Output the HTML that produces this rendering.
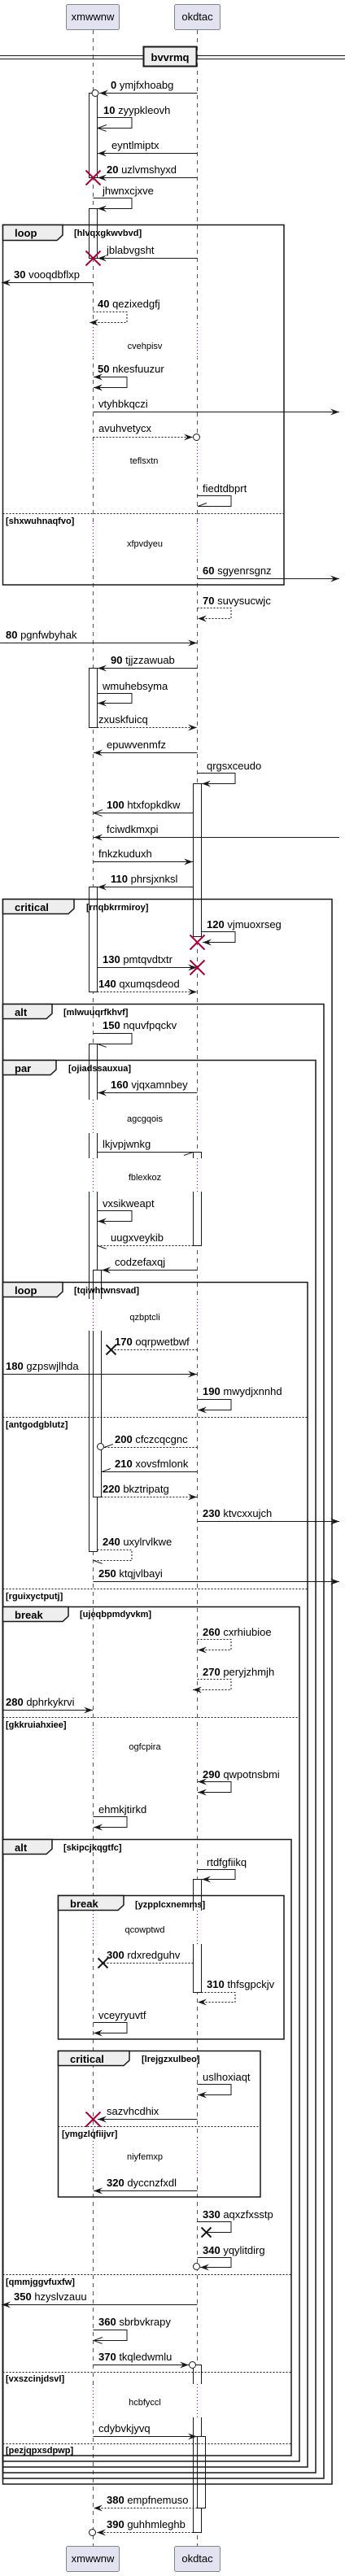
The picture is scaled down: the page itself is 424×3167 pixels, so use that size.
<!DOCTYPE html>
<html><head><meta charset="utf-8"><style>
html,body{margin:0;padding:0;background:#fff;}
svg{display:block;}
text{font-family:"Liberation Sans",Arial,sans-serif;fill:#000;}
.t{font-size:13px;}
.g{font-size:11px;font-weight:bold;}
.dv{font-size:11px;}
.tab{font-size:13px;font-weight:bold;}
.l{stroke:#181818;stroke-width:1;fill:none;}
.d{stroke:#181818;stroke-width:1;fill:none;stroke-dasharray:2,2;}
.fr{stroke:#181818;stroke-width:1.5;fill:none;}
.tb{stroke:#181818;stroke-width:1.5;fill:#eeeeee;}
.el{stroke:#181818;stroke-width:1;stroke-dasharray:2,2;}
.bar{fill:#fff;stroke:#181818;stroke-width:1;}
.rx{stroke:#a80036;stroke-width:2;}
.bx{stroke:#181818;stroke-width:2;}
.ll{stroke:#555;stroke-width:1;stroke-dasharray:5,5;}
.rd{stroke:#a80036;stroke-width:1;stroke-dasharray:1,3;}
</style></head><body>
<svg width="424" height="3167" viewBox="0 0 424 3167" xmlns="http://www.w3.org/2000/svg">
<defs>
<marker id="f" markerUnits="userSpaceOnUse" markerWidth="12" markerHeight="10" refX="11" refY="4" orient="auto"><path d="M0,0 L11,4 L0,8 L4,4 Z" fill="#181818"/></marker>
<marker id="fs" markerUnits="userSpaceOnUse" markerWidth="12" markerHeight="10" refX="11" refY="4" orient="auto-start-reverse"><path d="M0,0 L11,4 L0,8 L4,4 Z" fill="#181818"/></marker>
<marker id="o" markerUnits="userSpaceOnUse" markerWidth="12" markerHeight="10" refX="11" refY="4" orient="auto"><path d="M0,0 L11,4 L0,8" fill="none" stroke="#181818"/></marker>
<marker id="h" markerUnits="userSpaceOnUse" markerWidth="12" markerHeight="10" refX="11" refY="4" orient="auto"><path d="M0,8 L11,4" fill="none" stroke="#181818"/></marker>
<marker id="hu" markerUnits="userSpaceOnUse" markerWidth="12" markerHeight="10" refX="11" refY="4" orient="auto"><path d="M0,0 L11,4" fill="none" stroke="#181818"/></marker>
</defs>

<!-- participants -->
<rect x="81.5" y="5.5" width="65" height="31" rx="2" fill="#e2e2f0" stroke="#181818" stroke-width="0.5"/>
<text x="114" y="25" class="t" text-anchor="middle">xmwwnw</text>
<rect x="214.5" y="5.5" width="56" height="31" rx="2" fill="#e2e2f0" stroke="#181818" stroke-width="0.5"/>
<text x="242.5" y="25" class="t" text-anchor="middle">okdtac</text>
<rect x="81.5" y="3130.5" width="65" height="31" rx="2" fill="#e2e2f0" stroke="#181818" stroke-width="0.5"/>
<text x="114" y="3150" class="t" text-anchor="middle">xmwwnw</text>
<rect x="214.5" y="3130.5" width="56" height="31" rx="2" fill="#e2e2f0" stroke="#181818" stroke-width="0.5"/>
<text x="242.5" y="3150" class="t" text-anchor="middle">okdtac</text>

<line x1="114.5" y1="37" x2="114.5" y2="3130" class="ll"/>
<line x1="242.5" y1="37" x2="242.5" y2="3130" class="ll"/>

<!-- divider -->
<line x1="0" y1="68.5" x2="424" y2="68.5" stroke="#181818"/>
<line x1="0" y1="72.5" x2="424" y2="72.5" stroke="#181818"/>
<rect x="176.5" y="57.5" width="65" height="24" fill="#eeeeee" stroke="#181818" stroke-width="2"/>
<text x="209" y="75" class="tab" text-anchor="middle">bvvrmq</text>

<!-- activation bars -->
<rect x="109.5" y="114.5" width="10" height="104" class="bar"/>
<rect x="109.5" y="256.5" width="10" height="61" class="bar"/>
<rect x="109.5" y="821.5" width="10" height="73" class="bar"/>
<rect x="237.5" y="963.5" width="10" height="188" class="bar"/>
<rect x="109.5" y="1090.5" width="10" height="129" class="bar"/>
<rect x="109.5" y="1283.5" width="10" height="624" class="bar"/>
<rect x="237.5" y="1416.5" width="10" height="115" class="bar"/>
<rect x="114.5" y="1561.5" width="10" height="279" class="bar"/>
<rect x="237.5" y="2310.5" width="10" height="139" class="bar"/>
<rect x="237.5" y="2907.5" width="10" height="206" class="bar"/>
<rect x="242.5" y="2995.5" width="10" height="88" class="bar"/>

<!-- delays -->
<g fill="#fff">
<rect x="105" y="398" width="22" height="42"/><rect x="232" y="398" width="22" height="42"/>
<rect x="105" y="541" width="22" height="42"/><rect x="232" y="541" width="22" height="42"/>
<rect x="105" y="643" width="22" height="42"/><rect x="232" y="643" width="22" height="42"/>
<rect x="105" y="1352" width="22" height="41"/><rect x="232" y="1352" width="22" height="41"/>
<rect x="105" y="1424" width="22" height="41"/><rect x="232" y="1424" width="22" height="41"/>
<rect x="105" y="1597" width="22" height="39"/><rect x="232" y="1597" width="22" height="39"/>
<rect x="105" y="2121" width="22" height="42"/><rect x="232" y="2121" width="22" height="42"/>
<rect x="105" y="2349" width="22" height="41"/><rect x="232" y="2349" width="22" height="41"/>
<rect x="105" y="2628" width="22" height="42"/><rect x="232" y="2628" width="22" height="42"/>
<rect x="105" y="2931" width="22" height="41"/><rect x="232" y="2931" width="22" height="41"/>
</g>
<g class="rd">
<line x1="114.5" y1="398" x2="114.5" y2="440"/><line x1="242.5" y1="398" x2="242.5" y2="440"/>
<line x1="114.5" y1="541" x2="114.5" y2="583"/><line x1="242.5" y1="541" x2="242.5" y2="583"/>
<line x1="114.5" y1="643" x2="114.5" y2="685"/><line x1="242.5" y1="643" x2="242.5" y2="685"/>
<line x1="114.5" y1="1352" x2="114.5" y2="1393"/><line x1="242.5" y1="1352" x2="242.5" y2="1393"/>
<line x1="114.5" y1="1424" x2="114.5" y2="1465"/><line x1="242.5" y1="1424" x2="242.5" y2="1465"/>
<line x1="114.5" y1="1597" x2="114.5" y2="1636"/><line x1="242.5" y1="1597" x2="242.5" y2="1636"/>
<line x1="114.5" y1="2121" x2="114.5" y2="2163"/><line x1="242.5" y1="2121" x2="242.5" y2="2163"/>
<line x1="114.5" y1="2349" x2="114.5" y2="2390"/><line x1="242.5" y1="2349" x2="242.5" y2="2390"/>
<line x1="114.5" y1="2628" x2="114.5" y2="2670"/><line x1="242.5" y1="2628" x2="242.5" y2="2670"/>
<line x1="114.5" y1="2931" x2="114.5" y2="2972"/><line x1="242.5" y1="2931" x2="242.5" y2="2972"/>
</g>
<text x="178" y="429" class="dv" text-anchor="middle">cvehpisv</text>
<text x="177" y="570" class="dv" text-anchor="middle">teflsxtn</text>
<text x="178" y="672" class="dv" text-anchor="middle">xfpvdyeu</text>
<text x="178" y="1379" class="dv" text-anchor="middle">agcgqois</text>
<text x="178" y="1451" class="dv" text-anchor="middle">fblexkoz</text>
<text x="178" y="1623" class="dv" text-anchor="middle">qzbptcli</text>
<text x="178" y="2151" class="dv" text-anchor="middle">ogfcpira</text>
<text x="178" y="2376" class="dv" text-anchor="middle">qcowptwd</text>
<text x="178" y="2655" class="dv" text-anchor="middle">niyfemxp</text>
<text x="178" y="2957" class="dv" text-anchor="middle">hcbfyccl</text>

<!-- frames -->
<rect x="3.5" y="276.5" width="345.5" height="442.5" class="fr"/>
<path d="M3.5,276.5 H77 V289 L70,295.5 H3.5 Z" class="tb"/>
<text x="18" y="291" class="tab">loop</text>
<text x="91" y="290" class="g">[hlvqxgkwvbvd]</text>
<line x1="3.5" y1="631.5" x2="349" y2="631.5" class="el"/>
<text x="7" y="644" class="g">[shxwuhnaqfvo]</text>

<rect x="3.5" y="1105.5" width="404.5" height="1948.5" class="fr"/>
<path d="M3.5,1105.5 H91 V1117 L84,1123.5 H3.5 Z" class="tb"/>
<text x="18" y="1120" class="tab">critical</text>
<text x="106" y="1119" class="g">[rnqbkrrmiroy]</text>

<rect x="3.5" y="1234.5" width="394.5" height="1812.5" class="fr"/>
<path d="M3.5,1234.5 H64 V1246 L57,1252.5 H3.5 Z" class="tb"/>
<text x="18" y="1249" class="tab">alt</text>
<text x="78" y="1248" class="g">[mlwuuqrfkhvf]</text>

<rect x="3.5" y="1303.5" width="384.5" height="1736.5" class="fr"/>
<path d="M3.5,1303.5 H69 V1315 L62,1321.5 H3.5 Z" class="tb"/>
<text x="18" y="1318" class="tab">par</text>
<text x="84" y="1317" class="g">[ojiadssauxua]</text>

<rect x="3.5" y="1576.5" width="374.5" height="1456.5" class="fr"/>
<path d="M3.5,1576.5 H77 V1588 L70,1594.5 H3.5 Z" class="tb"/>
<text x="18" y="1591" class="tab">loop</text>
<text x="91" y="1590" class="g">[tqiwhtwnsvad]</text>
<line x1="3.5" y1="1742.5" x2="378" y2="1742.5" class="el"/>
<text x="7" y="1755" class="g">[antgodgblutz]</text>
<line x1="3.5" y1="1953.5" x2="378" y2="1953.5" class="el"/>
<text x="7" y="1966" class="g">[rguixyctputj]</text>

<rect x="3.5" y="1975.5" width="364.5" height="1050.5" class="fr"/>
<path d="M3.5,1975.5 H84 V1987 L77,1993.5 H3.5 Z" class="tb"/>
<text x="18" y="1990" class="tab">break</text>
<text x="98" y="1988" class="g">[ujeqbpmdyvkm]</text>
<line x1="3.5" y1="2111.5" x2="368" y2="2111.5" class="el"/>
<text x="7" y="2124" class="g">[gkkruiahxiee]</text>

<rect x="3.5" y="2261.5" width="354.5" height="757.5" class="fr"/>
<path d="M3.5,2261.5 H64 V2273 L57,2279.5 H3.5 Z" class="tb"/>
<text x="18" y="2276" class="tab">alt</text>
<text x="78" y="2275" class="g">[skipcjkqgtfc]</text>
<line x1="3.5" y1="2796.5" x2="358" y2="2796.5" class="el"/>
<text x="7" y="2809" class="g">[qmmjggvfuxfw]</text>
<line x1="3.5" y1="2916.5" x2="358" y2="2916.5" class="el"/>
<text x="7" y="2928" class="g">[vxszcinjdsvl]</text>
<line x1="3.5" y1="3004.5" x2="358" y2="3004.5" class="el"/>
<text x="7" y="3016" class="g">[pezjqpxsdpwp]</text>

<rect x="71.5" y="2330.5" width="277.5" height="176.5" class="fr"/>
<path d="M71.5,2330.5 H152 V2342 L145,2348.5 H71.5 Z" class="tb"/>
<text x="86" y="2345" class="tab">break</text>
<text x="166" y="2345" class="g">[yzpplcxnemms]</text>

<rect x="71.5" y="2521.5" width="248.5" height="179.5" class="fr"/>
<path d="M71.5,2521.5 H159 V2533 L152,2539.5 H71.5 Z" class="tb"/>
<text x="86" y="2536" class="tab">critical</text>
<text x="174" y="2535" class="g">[lrejgzxulbeo]</text>
<line x1="71.5" y1="2614.5" x2="320" y2="2614.5" class="el"/>
<text x="76" y="2627" class="g">[ymgzlqfiijvr]</text>

<!-- messages -->
<line x1="242.5" y1="114.5" x2="122" y2="114.5" class="l" marker-end="url(#f)"/>
<circle cx="117" cy="114.5" r="4" fill="#fff" stroke="#181818"/>
<text x="136" y="109" class="t"><tspan font-weight="bold">0</tspan> ymjfxhoabg</text>

<polyline points="119.5,144.5 162,144.5 162,157.5 120,157.5" class="l" marker-end="url(#o)"/>
<text x="127" y="140" class="t"><tspan font-weight="bold">10</tspan> zyypkleovh</text>

<line x1="242.5" y1="188.5" x2="120" y2="188.5" class="l" marker-end="url(#f)"/>
<text x="137" y="183" class="t">eyntlmiptx</text>

<line x1="242.5" y1="218.5" x2="120" y2="218.5" class="l" marker-end="url(#f)"/>
<text x="131" y="213" class="t"><tspan font-weight="bold">20</tspan> uzlvmshyxd</text>
<path d="M105.5,209.5 L123.5,227.5 M123.5,209.5 L105.5,227.5" class="rx"/>

<polyline points="114.5,243.5 162,243.5 162,256.5 120,256.5" class="l" marker-end="url(#f)"/>
<text x="126" y="239" class="t">jhwnxcjxve</text>

<line x1="242.5" y1="317.5" x2="120" y2="317.5" class="l" marker-end="url(#f)"/>
<text x="131" y="312" class="t">jblabvgsht</text>
<path d="M105.5,308.5 L123.5,326.5 M123.5,308.5 L105.5,326.5" class="rx"/>

<line x1="114.5" y1="347.5" x2="2" y2="347.5" class="l" marker-end="url(#f)"/>
<text x="17" y="342" class="t"><tspan font-weight="bold">30</tspan> vooqdbflxp</text>

<polyline points="114.5,383.5 156,383.5 156,396.5 110,396.5" class="d" marker-end="url(#f)"/>
<text x="120" y="378" class="t"><tspan font-weight="bold">40</tspan> qezixedgfj</text>

<polyline points="115,463.5 156,463.5 156,476.5 115,476.5" class="l" marker-start="url(#fs)" marker-end="url(#f)"/>
<text x="120" y="458" class="t"><tspan font-weight="bold">50</tspan> nkesfuuzur</text>

<line x1="114.5" y1="506.5" x2="417" y2="506.5" class="l" marker-end="url(#f)"/>
<text x="121" y="501" class="t">vtyhbkqczi</text>

<line x1="114.5" y1="537.5" x2="237" y2="537.5" class="d" marker-end="url(#f)"/>
<circle cx="241.5" cy="537.5" r="4" fill="#fff" stroke="#181818"/>
<text x="121" y="531" class="t">avuhvetycx</text>

<polyline points="242.5,609.5 284,609.5 284,622.5 243,622.5" class="l" marker-end="url(#h)"/>
<text x="249" y="605" class="t">fiedtdbprt</text>

<line x1="242.5" y1="711.5" x2="417" y2="711.5" class="l" marker-end="url(#f)"/>
<text x="249" y="706" class="t"><tspan font-weight="bold">60</tspan> sgyenrsgnz</text>

<polyline points="242.5,747.5 284,747.5 284,760.5 243,760.5" class="d" marker-end="url(#f)"/>
<text x="249" y="743" class="t"><tspan font-weight="bold">70</tspan> suvysucwjc</text>

<line x1="0" y1="790.5" x2="242" y2="790.5" class="l" marker-end="url(#f)"/>
<text x="7" y="785" class="t"><tspan font-weight="bold">80</tspan> pgnfwbyhak</text>

<line x1="242.5" y1="821.5" x2="120" y2="821.5" class="l" marker-end="url(#f)"/>
<text x="136" y="816" class="t"><tspan font-weight="bold">90</tspan> tjjzzawuab</text>

<polyline points="119.5,852.5 162,852.5 162,864.5 120,864.5" class="l" marker-end="url(#f)"/>
<text x="126" y="848" class="t">wmuhebsyma</text>

<line x1="119.5" y1="894.5" x2="242" y2="894.5" class="d" marker-end="url(#f)"/>
<text x="121" y="889" class="t">zxuskfuicq</text>

<line x1="242.5" y1="925.5" x2="115" y2="925.5" class="l" marker-end="url(#f)"/>
<text x="131" y="920" class="t">epuwvenmfz</text>

<polyline points="242.5,950.5 289,950.5 289,963.5 248,963.5" class="l" marker-end="url(#f)"/>
<text x="254" y="946" class="t">qrgsxceudo</text>

<line x1="237.5" y1="999.5" x2="115" y2="999.5" class="l" marker-end="url(#o)"/>
<text x="131" y="994" class="t"><tspan font-weight="bold">100</tspan> htxfopkdkw</text>

<line x1="417" y1="1029.5" x2="115" y2="1029.5" class="l" marker-end="url(#f)"/>
<text x="131" y="1024" class="t">fciwdkmxpi</text>

<line x1="114.5" y1="1059.5" x2="237" y2="1059.5" class="l" marker-end="url(#f)"/>
<text x="121" y="1054" class="t">fnkzkuduxh</text>

<line x1="237.5" y1="1090.5" x2="120" y2="1090.5" class="l" marker-end="url(#f)"/>
<text x="136" y="1085" class="t"><tspan font-weight="bold">110</tspan> phrsjxnksl</text>

<polyline points="247.5,1145.5 289,1145.5 289,1158.5 249,1158.5" class="l" marker-end="url(#f)"/>
<text x="254" y="1141" class="t"><tspan font-weight="bold">120</tspan> vjmuoxrseg</text>
<path d="M233.5,1149.5 L251.5,1167.5 M251.5,1149.5 L233.5,1167.5" class="rx"/>

<line x1="119.5" y1="1189.5" x2="242" y2="1189.5" class="l" marker-end="url(#f)"/>
<text x="126" y="1184" class="t"><tspan font-weight="bold">130</tspan> pmtqvdtxtr</text>
<path d="M233.5,1180.5 L251.5,1198.5 M251.5,1180.5 L233.5,1198.5" class="rx"/>

<line x1="119.5" y1="1219.5" x2="242" y2="1219.5" class="d" marker-end="url(#f)"/>
<text x="121" y="1214" class="t"><tspan font-weight="bold">140</tspan> qxumqsdeod</text>

<polyline points="114.5,1270.5 162,1270.5 162,1283.5 120,1283.5" class="l" marker-end="url(#hu)"/>
<text x="126" y="1265" class="t"><tspan font-weight="bold">150</tspan> nquvfpqckv</text>

<line x1="242.5" y1="1343.5" x2="120" y2="1343.5" class="l" marker-end="url(#f)"/>
<text x="136" y="1338" class="t"><tspan font-weight="bold">160</tspan> vjqxamnbey</text>

<line x1="119.5" y1="1416.5" x2="237" y2="1416.5" class="l" marker-end="url(#h)"/>
<text x="126" y="1411" class="t">lkjvpjwnkg</text>

<polyline points="119.5,1488.5 162,1488.5 162,1501.5 120,1501.5" class="l" marker-end="url(#f)"/>
<text x="126" y="1484" class="t">vxsikweapt</text>

<line x1="237.5" y1="1531.5" x2="120" y2="1531.5" class="d" marker-end="url(#hu)"/>
<text x="136" y="1526" class="t">uugxveykib</text>

<line x1="242.5" y1="1561.5" x2="125" y2="1561.5" class="l" marker-end="url(#f)"/>
<text x="141" y="1556" class="t">codzefaxqj</text>

<line x1="242.5" y1="1659.5" x2="137" y2="1659.5" class="d"/>
<path d="M130.5,1653.5 L142.5,1665.5 M142.5,1653.5 L130.5,1665.5" class="bx"/>
<text x="141" y="1654" class="t"><tspan font-weight="bold">170</tspan> oqrpwetbwf</text>

<line x1="3" y1="1689.5" x2="242" y2="1689.5" class="l" marker-end="url(#f)"/>
<text x="7" y="1684" class="t"><tspan font-weight="bold">180</tspan> gzpswjlhda</text>

<polyline points="242.5,1720.5 284,1720.5 284,1733.5 243,1733.5" class="l" marker-end="url(#f)"/>
<text x="249" y="1715" class="t"><tspan font-weight="bold">190</tspan> mwydjxnnhd</text>

<line x1="242.5" y1="1779.5" x2="128" y2="1779.5" class="d" marker-end="url(#h)"/>
<circle cx="123.5" cy="1778.5" r="4" fill="#fff" stroke="#181818"/>
<text x="141" y="1774" class="t"><tspan font-weight="bold">200</tspan> cfczcqcgnc</text>

<line x1="242.5" y1="1809.5" x2="125" y2="1809.5" class="l" marker-end="url(#h)"/>
<text x="141" y="1804" class="t"><tspan font-weight="bold">210</tspan> xovsfmlonk</text>

<line x1="124.5" y1="1840.5" x2="242" y2="1840.5" class="d" marker-end="url(#f)"/>
<text x="126" y="1835" class="t"><tspan font-weight="bold">220</tspan> bkztripatg</text>

<line x1="242.5" y1="1870.5" x2="417" y2="1870.5" class="l" marker-end="url(#f)"/>
<text x="249" y="1865" class="t"><tspan font-weight="bold">230</tspan> ktvcxxujch</text>

<polyline points="119.5,1905.5 162,1905.5 162,1918.5 115,1918.5" class="d" marker-end="url(#hu)"/>
<text x="126" y="1900" class="t"><tspan font-weight="bold">240</tspan> uxylrvlkwe</text>

<line x1="114.5" y1="1944.5" x2="417" y2="1944.5" class="l" marker-end="url(#f)"/>
<text x="121" y="1939" class="t"><tspan font-weight="bold">250</tspan> ktqjvlbayi</text>

<polyline points="242.5,2015.5 284,2015.5 284,2028.5 243,2028.5" class="d" marker-end="url(#f)"/>
<text x="249" y="2011" class="t"><tspan font-weight="bold">260</tspan> cxrhiubioe</text>

<polyline points="242.5,2064.5 284,2064.5 284,2077.5 237,2077.5" class="d" marker-end="url(#f)"/>
<text x="249" y="2060" class="t"><tspan font-weight="bold">270</tspan> peryjzhmjh</text>

<line x1="3" y1="2102.5" x2="114" y2="2102.5" class="l" marker-end="url(#f)"/>
<text x="7" y="2097" class="t"><tspan font-weight="bold">280</tspan> dphrkykrvi</text>

<polyline points="243,2190.5 284,2190.5 284,2203.5 243,2203.5" class="l" marker-start="url(#fs)" marker-end="url(#f)"/>
<text x="249" y="2186" class="t"><tspan font-weight="bold">290</tspan> qwpotnsbmi</text>

<polyline points="114.5,2233.5 156,2233.5 156,2246.5 115,2246.5" class="l" marker-end="url(#f)"/>
<text x="121" y="2229" class="t">ehmkjtirkd</text>

<polyline points="242.5,2298.5 289,2298.5 289,2310.5 248,2310.5" class="l" marker-end="url(#f)"/>
<text x="254" y="2294" class="t">rtdfgfiikq</text>

<line x1="237.5" y1="2413.5" x2="127" y2="2413.5" class="d"/>
<path d="M120.5,2407.5 L132.5,2419.5 M132.5,2407.5 L120.5,2419.5" class="bx"/>
<text x="131" y="2408" class="t"><tspan font-weight="bold">300</tspan> rdxredguhv</text>

<polyline points="247.5,2449.5 289,2449.5 289,2461.5 243,2461.5" class="d" marker-end="url(#f)"/>
<text x="254" y="2444" class="t"><tspan font-weight="bold">310</tspan> thfsgpckjv</text>

<polyline points="114.5,2486.5 156,2486.5 156,2499.5 115,2499.5" class="l" marker-end="url(#f)"/>
<text x="121" y="2482" class="t">vceyryuvtf</text>

<polyline points="242.5,2562.5 284,2562.5 284,2575.5 243,2575.5" class="l" marker-end="url(#f)"/>
<text x="249" y="2558" class="t">uslhoxiaqt</text>

<line x1="242.5" y1="2605.5" x2="120" y2="2605.5" class="l" marker-end="url(#f)"/>
<text x="131" y="2600" class="t">sazvhcdhix</text>
<path d="M105.5,2596.5 L123.5,2614.5 M123.5,2596.5 L105.5,2614.5" class="rx"/>

<line x1="242.5" y1="2693.5" x2="115" y2="2693.5" class="l" marker-end="url(#f)"/>
<text x="131" y="2688" class="t"><tspan font-weight="bold">320</tspan> dyccnzfxdl</text>

<polyline points="242.5,2731.5 284,2731.5 284,2744.5 254,2744.5" class="l"/>
<path d="M247.5,2738.5 L259.5,2750.5 M259.5,2738.5 L247.5,2750.5" class="bx"/>
<text x="249" y="2727" class="t"><tspan font-weight="bold">330</tspan> aqxzfxsstp</text>

<polyline points="242.5,2775.5 284,2775.5 284,2787.5 246,2787.5" class="l" marker-end="url(#f)"/>
<circle cx="241.5" cy="2786.5" r="4" fill="#fff" stroke="#181818"/>
<text x="249" y="2771" class="t"><tspan font-weight="bold">340</tspan> yqylitdirg</text>

<line x1="242.5" y1="2833.5" x2="2" y2="2833.5" class="l" marker-end="url(#f)"/>
<text x="17" y="2828" class="t"><tspan font-weight="bold">350</tspan> hzyslvzauu</text>

<polyline points="114.5,2864.5 156,2864.5 156,2877.5 115,2877.5" class="l" marker-end="url(#o)"/>
<text x="121" y="2859" class="t"><tspan font-weight="bold">360</tspan> sbrbvkrapy</text>

<line x1="114.5" y1="2907.5" x2="232" y2="2907.5" class="l" marker-end="url(#f)"/>
<circle cx="236.5" cy="2907.5" r="4" fill="#fff" stroke="#181818"/>
<text x="121" y="2902" class="t"><tspan font-weight="bold">370</tspan> tkqledwmlu</text>

<line x1="114.5" y1="2995.5" x2="242" y2="2995.5" class="l" marker-end="url(#f)"/>
<text x="121" y="2990" class="t">cdybvkjyvq</text>

<line x1="242.5" y1="3083.5" x2="115" y2="3083.5" class="d" marker-end="url(#f)"/>
<text x="131" y="3078" class="t"><tspan font-weight="bold">380</tspan> empfnemuso</text>

<line x1="237.5" y1="3113.5" x2="119" y2="3113.5" class="d" marker-end="url(#f)"/>
<circle cx="113.5" cy="3113.5" r="4" fill="#fff" stroke="#181818"/>
<text x="131" y="3108" class="t"><tspan font-weight="bold">390</tspan> guhhmleghb</text>
</svg>
</body></html>
